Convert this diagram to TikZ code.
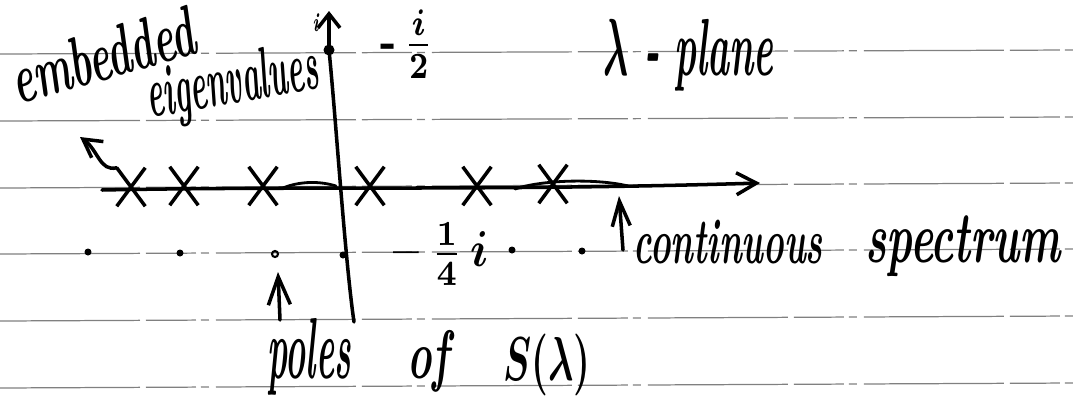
\documentclass[tikz,border=0pt]{standalone}
\usepackage{graphicx}
\usepackage{amsmath}
\usetikzlibrary{arrows.meta,shapes.misc}
\newcommand{\hw}[3]{\resizebox*{#1}{#2}{\bfseries\itshape #3}}
\begin{document}
\begin{tikzpicture}[x=0.1mm,y=-0.1mm,
  rule/.style={black!50, line width=0.35pt, dash pattern=on 14mm off 0.6mm on 5mm off 0.5mm on 0.8mm off 0.7mm},
  ink/.style={line width=1pt, line cap=round, line join=round},
  xmark/.style={cross out, draw, line width=1pt, inner sep=0pt, minimum width=2.5mm, minimum height=3.5mm},
  pole/.style={circle, fill, inner sep=0pt, minimum size=0.7mm},
  lbl/.style={inner sep=0pt, anchor=base west}
]
\useasboundingbox (0,0) rectangle (1073,412);
% ruled paper
\foreach \a/\b in {54/50,121/117,188/183,254/249,321/316,388/383}
  \draw[rule] (0,\a) -- (1073,\b);

% real axis
\coordinate (ra) at (102,190);
\coordinate (rb) at (760,183);
\draw[ink, -{Straight Barb[length=2mm,width=2.2mm,line width=1pt]}] (ra) .. controls (300,186) and (500,191) .. (rb);
\draw[ink, line width=0.8pt] (283,188) .. controls (300,181) and (320,181) .. (336,186);
\draw[ink, line width=0.8pt] (515,189) .. controls (545,179) and (600,179) .. (628,186);

% imaginary axis
\coordinate (vb) at (354,322);
\node[circle, fill, inner sep=0pt, minimum size=1.1mm] (dot) at (329,50) {};
\coordinate (vt) at (329,11);
\draw[ink] (vb) .. controls (345,260) and (336,120) .. (dot.center);
\draw[ink, -{Straight Barb[length=1.4mm,width=2.2mm,line width=1pt]}] (dot.center) -- (vt);
\node[lbl] (itop) at (312,31) {\hw{0.6mm}{1.8mm}{i}};

% embedded eigenvalues (crosses)
\node[xmark] (x1) at (131,187) {};
\node[xmark] (x2) at (184,186) {};
\node[xmark] (x3) at (263,186) {};
\node[xmark] (x4) at (370,186) {};
\node[xmark] (x5) at (477,186) {};
\node[xmark] (x6) at (553,184) {};

% poles
\node[pole] (p1) at (88,252) {};
\node[pole] (p2) at (180,253) {};
\node[circle, draw, line width=0.6pt, inner sep=0pt, minimum size=0.6mm] (p3) at (275,254) {};
\node[pole] (p4) at (343,255) {};
\node[pole] (p5) at (512,250) {};
\node[pole] (p6) at (582,251) {};

% labels
\node[lbl, rotate=16] (emb) at (18,105) {\hw{18.8mm}{5mm}{embedded}};
\node[lbl, rotate=10] (eig) at (150,118) {\hw{17.3mm}{6.5mm}{eigenvalues}};
\node[inner sep=0pt] (mhalf) at (407,44) {\resizebox*{5.3mm}{6.8mm}{$\text{\bfseries -}\,\boldsymbol{\frac{i}{2}}$}};
\node[lbl] (plane) at (603,75) {\hw{17mm}{7.2mm}{$\boldsymbol{\lambda}$ - plane}};
\node[inner sep=0pt] (mquart) at (441,254) {\resizebox*{9.6mm}{6.3mm}{$\text{\bfseries --}\;\boldsymbol{\frac{1}{4}\,i}$}};
\node[lbl] (cont) at (633,263) {\hw{18.9mm}{4.4mm}{continuous}};
\node[lbl] (spec) at (865,262) {\hw{19.5mm}{6.1mm}{spectrum}};
\node[lbl] (poles) at (267,378) {\hw{8.3mm}{7.7mm}{poles}};
\node[lbl] (of) at (407,378) {\hw{4.1mm}{6.2mm}{of}};
\node[lbl] (S) at (503,380) {\resizebox*{8.7mm}{6.2mm}{$\boldsymbol{S(\lambda)}$}};

% arrows
\coordinate (ea) at (80,137);
\draw[ink, -{Straight Barb[length=1.8mm,width=2mm,line width=1pt]}] (x1.north west) .. controls (100,172) and (98,150) .. (ea);
\coordinate (csb) at (623,250);
\coordinate (cst) at (619,196);
\draw[ink, -{Straight Barb[length=2.5mm,width=1.8mm,line width=1pt]}] (csb) -- (cst);
\coordinate (pb) at (280,320);
\coordinate (pt) at (278,272);
\draw[ink, -{Straight Barb[length=2.8mm,width=2.2mm,line width=1pt]}] (pb) -- (pt);
\end{tikzpicture}
\end{document}
